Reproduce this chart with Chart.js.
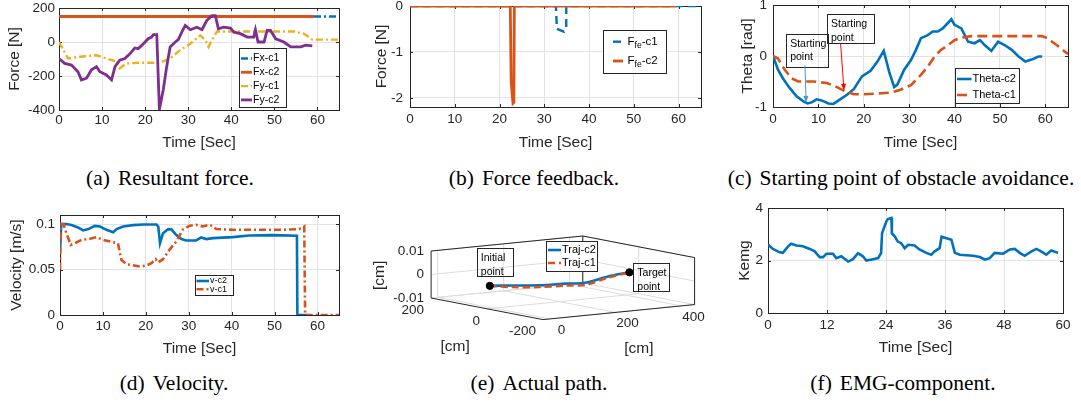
<!DOCTYPE html>
<html>
<head>
<meta charset="utf-8">
<title>Obstacle avoidance results</title>
<script src="https://cdn.jsdelivr.net/npm/chart.js@4.4.1/dist/chart.umd.min.js"></script>
<style>
  html, body { margin: 0; padding: 0; background: #fff; }
  #fig { position: relative; width: 1081px; height: 402px; overflow: hidden; background: #fff; }
  #fig canvas { position: absolute; }
  .cap { position: absolute; font-family: "Liberation Serif", "Times New Roman", serif; font-size: 21.5px; line-height: 21.5px; color: #000; white-space: nowrap; transform: translateX(-50%); }
  .cap span { margin-right: 8px; }
</style>
</head>
<body>
<div id="fig">
  <div class="cap" style="left:170px; top:168px"><span>(a)</span>Resultant force.</div>
  <div class="cap" style="left:534px; top:168px"><span>(b)</span>Force feedback.</div>
  <div class="cap" style="left:901px; top:168px"><span>(c)</span>Starting point of obstacle avoidance.</div>
  <div class="cap" style="left:174px; top:373px"><span>(d)</span>Velocity.</div>
  <div class="cap" style="left:539px; top:373px"><span>(e)</span>Actual path.</div>
  <div class="cap" style="left:903px; top:373px"><span>(f)</span>EMG-component.</div>
</div>
<script>
// ---- values ----
const timeTicks = [0, 10, 20, 30, 40, 50, 60];
const emgTimeTicks = [0, 12, 24, 36, 48, 60];
const forceTicks = [-400, -200, 0, 200];
const feedbackTicks = [-2, -1, 0];
const thetaTicks = [-1, 0, 1];
const velocityTicks = [0, 0.05, 0.1];
const kemgTicks = [0, 2, 4];

// (a) resultant force [s, N]
const fxC1 = [[0, 150], [65, 150]];
const fxC2 = [[0, 150], [59.2, 150]];
const fyC1 = [[0, 0], [2.1, -97], [4.8, -87], [8.7, -78], [11, -97], [13.4, -116], [14.1, -155], [15.7, -126],
  [18.8, -122], [23.5, -122], [25.8, -97], [28.1, -48], [30.5, -10], [32.8, 39], [34, 10], [34.7, -29],
  [35.9, 29], [36.7, 62], [40.6, 62], [54.5, 62], [56.9, 48], [58.8, 14], [65, 14]];
const fyC2 = [[0, -97], [1.3, -126], [2.9, -136], [4.4, -175], [5.2, -223], [6.4, -213], [7.5, -165], [8.7, -145],
  [9.5, -175], [11, -194], [12.2, -223], [13, -145], [14.1, -107], [15.3, -97], [16.5, -68], [17.6, -35],
  [18.4, -39], [19.6, -10], [20.7, 19], [21.5, 29], [21.9, 43], [22.7, 43], [23.3, -398], [24.2, -281],
  [25, -145], [25.8, -29], [27, 0], [27.7, 14], [28.5, 58], [29.3, 97], [30.5, 72], [32, 87], [33.2, 72],
  [34.3, 126], [35.5, 155], [36.3, 155], [37, 78], [38.2, 87], [39.8, 82], [40.6, 58], [42.1, 49], [43.7, 29],
  [45.2, 29], [45.6, 72], [46.2, 0], [47.6, 0], [48.3, 68], [49.1, 68], [50.3, 19], [52.2, 0], [53.8, -29],
  [56.1, -29], [57.3, -19], [58.8, -23]];

// (b) force feedback [s, N]
const ffeC1 = [[0, 0], [32.6, 0], [32.8, -0.5], [34.4, -0.56], [34.9, -0.5], [34.9, 0], [65, 0]];
const ffeC2 = [[0, 0], [22.4, 0], [22.6, -1.65], [23.0, -2.12], [23.2, -2.1], [23.3, 0], [59.4, 0]];

// (c) heading angle [s, rad]
const thetaC2 = [[0, 0], [1.1, -0.27], [2.2, -0.44], [3.7, -0.63], [5.2, -0.79], [6.7, -0.89], [7.6, -0.93],
  [8.5, -0.91], [9.6, -0.85], [10.7, -0.87], [12.2, -0.93], [13.3, -0.94], [14.8, -0.85], [16.3, -0.76],
  [17.8, -0.65], [19.6, -0.4], [21.5, -0.29], [23, -0.11], [24.4, 0.1], [25.6, -0.31], [26.7, -0.61],
  [27.4, -0.56], [28.9, -0.27], [30.4, -0.08], [31.5, 0.12], [32.6, 0.35], [34.1, 0.41], [35.2, 0.48],
  [36.3, 0.48], [37.4, 0.54], [39.3, 0.72], [40, 0.61], [41.5, 0.54], [43, 0.28], [44.4, 0.25], [45.6, 0.31],
  [46.7, 0.21], [48.1, 0.1], [49.6, 0.28], [51.1, 0.21], [52.6, 0.12], [54.1, -0.01], [55.6, -0.11],
  [57, -0.07], [58.5, -0.01], [59.3, -0.01]];
const thetaC1 = [[0, 0], [1.1, -0.05], [2.6, -0.27], [4.1, -0.44], [5.6, -0.5], [8.9, -0.5], [11.9, -0.53],
  [14.1, -0.61], [15.6, -0.68], [17.8, -0.75], [20, -0.75], [25.9, -0.72], [28.1, -0.66], [30.4, -0.57],
  [32.6, -0.37], [34.1, -0.21], [35.6, -0.01], [37, 0.12], [38.5, 0.21], [40, 0.31], [41.5, 0.36],
  [43.7, 0.39], [59.3, 0.39], [60.4, 0.35], [61.5, 0.28], [63, 0.18], [64.4, 0.08], [65, 0.04]];

// (d) velocity [s, m/s]
const vC2 = [[0, 0.07], [0.3, 0.1], [1.5, 0.1], [2.7, 0.099], [4.3, 0.096], [5.4, 0.093], [6.6, 0.0945],
  [8.1, 0.098], [9.3, 0.0974], [10.8, 0.0937], [12.4, 0.091], [13.2, 0.0945], [14.7, 0.0974], [17, 0.0989],
  [19.4, 0.0996], [22.5, 0.0996], [22.9, 0.097], [23.3, 0.079], [24, 0.09], [25.2, 0.0945], [26, 0.094],
  [27.1, 0.088], [28.3, 0.0835], [29.4, 0.082], [31.7, 0.082], [32.9, 0.0853], [34.1, 0.0835],
  [35.6, 0.0846], [40.2, 0.0857], [44.1, 0.0875], [49.5, 0.0879], [55.2, 0.0871], [55.3, 0], [57.7, 0]];
const vC1 = [[0, 0.05], [0.2, 0.1], [0.8, 0.1], [1.5, 0.09], [2.5, 0.077], [3.5, 0.079], [5, 0.0827],
  [7, 0.0838], [8.5, 0.0857], [10, 0.0827], [12.4, 0.08], [13.5, 0.079], [14.3, 0.0607], [15.5, 0.0559],
  [18.6, 0.0533], [20.1, 0.0544], [21.3, 0.057], [22.3, 0.0614], [22.8, 0.0577], [24, 0.0614],
  [25.5, 0.0717], [27.1, 0.0809], [28.6, 0.0938], [30.2, 0.0982], [31.7, 0.0993], [33.3, 0.0974],
  [34.8, 0.0993], [35.6, 0.0974], [36.4, 0.0945], [40.2, 0.0938], [51.9, 0.0938], [55.7, 0.0945],
  [56.9, 0.0974], [57.1, 0], [65, 0]];

// (e) actual path [x cm, y cm, z cm]
const pathXTicks = [0, 200, 400];
const pathYTicks = [-200, 0, 200];
const pathZTicks = [-0.01, 0, 0.01];
const trajC2 = [[-20, -10, 0], [26, -31, 0], [86, -64, 0], [156, -75, 0], [205, -87, 0], [315, -38, 0], [400, -14, 0]];
const trajC1 = [[-20, -10, 0], [10, -50, 0], [69, -85, 0], [136, -98, 0], [182, -114, 0], [302, -52, 0], [400, -14, 0]];
const pathStart = [-20, -10, 0];
const pathTarget = [400, -14, 0];

// (f) EMG component [s, -]
const kemg = [[0, 2.61], [1, 2.44], [2.4, 2.31], [3, 2.29], [4.1, 2.54], [4.7, 2.64], [5.8, 2.57], [7.1, 2.54],
  [8.5, 2.44], [9.5, 2.35], [10.5, 2.13], [11.2, 2.13], [11.9, 2.26], [13.2, 2.26], [13.9, 2.09], [14.9, 2.16],
  [16.3, 1.96], [17.3, 2.05], [18.3, 2.28], [19.3, 2.16], [20, 2.0], [21.4, 2.05], [22.4, 2.09], [23, 2.28],
  [23.2, 3.04], [23.7, 3.3], [24.1, 3.5], [24.4, 3.58], [25.1, 3.62], [25.2, 3.04], [25.8, 2.91], [26.4, 2.72],
  [27.1, 2.66], [27.8, 2.47], [28.5, 2.6], [29.8, 2.57], [30.8, 2.42], [32.2, 2.29], [33.2, 2.22], [33.9, 2.35],
  [34.9, 2.47], [35.3, 2.91], [36.3, 2.85], [37.3, 2.79], [38, 2.29], [39, 2.22], [41.7, 2.18], [43.1, 2.13],
  [44.1, 2.03], [45.1, 2.09], [46.1, 2.29], [47.8, 2.26], [49.2, 2.42], [50.2, 2.44], [51.2, 2.29],
  [52.2, 2.18], [53.6, 2.35], [54.6, 2.44], [55.9, 2.31], [56.6, 2.22], [57.6, 2.38], [59, 2.29]];

// ---- look ----
const BLUE = '#0072BD', ORANGE = '#D95319', YELLOW = '#EDB120', PURPLE = '#7E2F8E';
const INK = '#262626', GRID = '#e3e3e3';
const DASHDOT = [7, 3, 2, 3], DASHED = [10, 5];
const TICK = 13.5, TITLE = 15.5;
const SANS = "'Liberation Sans', Arial, sans-serif";

Chart.defaults.font.family = SANS;
Chart.defaults.font.size = TICK;
Chart.defaults.color = INK;
Chart.defaults.animation = false;
Chart.defaults.responsive = false;
Chart.defaults.devicePixelRatio = 1;
Chart.defaults.plugins.legend.display = false;
Chart.defaults.plugins.tooltip.enabled = false;

function addCanvas(id, left, top, w, h) {
  const c = document.createElement('canvas');
  c.id = id;
  c.width = w;
  c.height = h;
  c.style.left = left + 'px';
  c.style.top = top + 'px';
  document.getElementById('fig').appendChild(c);
  return c;
}

// label with optional subscript, e.g. "F_{fe}-c1"
function drawRichText(ctx, text, x, y, size) {
  const parts = text.split(/_\{([^}]*)\}/);
  ctx.textAlign = 'left';
  ctx.textBaseline = 'middle';
  ctx.fillStyle = '#000';
  parts.forEach((s, i) => {
    const sub = i % 2 === 1;
    ctx.font = (sub ? size * 0.75 : size) + 'px ' + SANS;
    ctx.fillText(s, x, y + (sub ? size * 0.3 : 0));
    x += ctx.measureText(s).width;
  });
}

// matlab style axes box with inward ticks
const framePlugin = {
  id: 'frame',
  beforeDatasetsDraw(chart) {
    const { ctx, chartArea: a, scales: { x, y } } = chart;
    ctx.save();
    ctx.strokeStyle = INK;
    ctx.lineWidth = 1;
    ctx.strokeRect(Math.round(a.left) + 0.5, Math.round(a.top) + 0.5,
      Math.round(a.right - a.left), Math.round(a.bottom - a.top));
    ctx.beginPath();
    x.ticks.forEach(t => {
      const px = Math.round(x.getPixelForValue(t.value)) + 0.5;
      ctx.moveTo(px, a.bottom); ctx.lineTo(px, a.bottom - 3);
      ctx.moveTo(px, a.top); ctx.lineTo(px, a.top + 3);
    });
    y.ticks.forEach(t => {
      const py = Math.round(y.getPixelForValue(t.value)) + 0.5;
      ctx.moveTo(a.left, py); ctx.lineTo(a.left + 3, py);
      ctx.moveTo(a.right, py); ctx.lineTo(a.right - 3, py);
    });
    ctx.stroke();
    ctx.restore();
  }
};

// legend box placed in figure coordinates
const legendPlugin = {
  id: 'boxLegend',
  afterDraw(chart, args, o) {
    if (!o || !o.box) return;
    const ctx = chart.ctx, ox = chart.canvas.offsetLeft, oy = chart.canvas.offsetTop;
    const [l, t, r, b] = o.box;
    ctx.save();
    ctx.fillStyle = '#fff';
    ctx.fillRect(l - ox, t - oy, r - l, b - t);
    ctx.strokeStyle = INK;
    ctx.lineWidth = 1;
    ctx.strokeRect(Math.round(l - ox) + 0.5, Math.round(t - oy) + 0.5, Math.round(r - l), Math.round(b - t));
    chart.data.datasets.filter(d => d.label).forEach((d, i) => {
      const yy = o.rows[i] - oy;
      ctx.strokeStyle = d.borderColor;
      ctx.lineWidth = d.borderWidth;
      ctx.setLineDash(d.borderDash || []);
      ctx.beginPath();
      ctx.moveTo(o.line[0] - ox, yy);
      ctx.lineTo(o.line[1] - ox, yy);
      ctx.stroke();
      ctx.setLineDash([]);
      drawRichText(ctx, d.label, o.textX - ox, yy, o.size);
    });
    ctx.restore();
  }
};

// text boxes and arrows in data coordinates
const notesPlugin = {
  id: 'notes',
  afterDatasetsDraw(chart, args, o) {
    if (!o || !o.items) return;
    const { ctx, scales: { x, y } } = chart;
    ctx.save();
    o.items.forEach(n => {
      if (n.box) {
        const x1 = x.getPixelForValue(n.box[0]), y1 = y.getPixelForValue(n.box[1]);
        const x2 = x.getPixelForValue(n.box[2]), y2 = y.getPixelForValue(n.box[3]);
        ctx.strokeStyle = INK;
        ctx.lineWidth = 1;
        ctx.strokeRect(Math.round(x1) + 0.5, Math.round(y1) + 0.5, Math.round(x2 - x1), Math.round(y2 - y1));
        n.lines.forEach((s, i) => drawRichText(ctx, s, x1 + 4, y1 + 10 + i * 13.5, 10.5));
      } else if (n.arrow) {
        const x1 = x.getPixelForValue(n.arrow[0]), y1 = y.getPixelForValue(n.arrow[1]);
        const x2 = x.getPixelForValue(n.arrow[2]), y2 = y.getPixelForValue(n.arrow[3]);
        const ang = Math.atan2(y2 - y1, x2 - x1);
        ctx.strokeStyle = n.color;
        ctx.fillStyle = n.color;
        ctx.lineWidth = 1;
        ctx.beginPath();
        ctx.moveTo(x1, y1);
        ctx.lineTo(x2 - 5 * Math.cos(ang), y2 - 5 * Math.sin(ang));
        ctx.stroke();
        ctx.beginPath();
        ctx.moveTo(x2, y2);
        ctx.lineTo(x2 - 7 * Math.cos(ang) + 2.5 * Math.sin(ang), y2 - 7 * Math.sin(ang) - 2.5 * Math.cos(ang));
        ctx.lineTo(x2 - 7 * Math.cos(ang) - 2.5 * Math.sin(ang), y2 - 7 * Math.sin(ang) + 2.5 * Math.cos(ang));
        ctx.closePath();
        ctx.fill();
      }
    });
    ctx.restore();
  }
};

function linePanel(p) {
  const [cl, ct, cw, ch] = p.canvas;
  const [al, at, ar, ab] = p.area;
  const tickLH = TICK * 1.2, titleLH = TITLE * 1.2;
  return new Chart(addCanvas(p.id, cl, ct, cw, ch), {
    type: 'line',
    data: {
      datasets: p.series.map(s => ({
        label: s.label,
        data: s.points.map(([x, y]) => ({ x, y })),
        borderColor: s.color,
        borderWidth: s.width || 2.4,
        borderDash: s.dash || [],
        pointRadius: 0,
        tension: 0,
        fill: false,
        order: s.order || 0
      }))
    },
    options: {
      layout: { padding: { left: 0, top: at - ct, right: cl + cw - ar, bottom: 0 } },
      scales: {
        x: {
          type: 'linear', min: p.x.min, max: p.x.max,
          afterBuildTicks: s => { s.ticks = p.x.ticks.map(v => ({ value: v })); },
          afterFit: s => { s.height = ct + ch - ab; s.paddingLeft = 0; s.paddingRight = 0; },
          grid: { color: GRID, drawTicks: false },
          border: { display: false },
          ticks: { autoSkip: false, maxRotation: 0, padding: p.xTickY - ab - tickLH / 2, callback: v => String(v) },
          title: { display: true, text: 'Time [Sec]', font: { size: TITLE },
                   padding: { top: 0, bottom: ct + ch - p.xTitleY - titleLH / 2 } }
        },
        y: {
          type: 'linear', min: p.y.min, max: p.y.max,
          afterBuildTicks: s => { s.ticks = p.y.ticks.map(v => ({ value: v })); },
          afterFit: s => { s.width = al - cl; s.paddingTop = 0; s.paddingBottom = 0; },
          grid: { color: GRID, drawTicks: false },
          border: { display: false },
          ticks: { autoSkip: false, padding: p.yTickPad, callback: v => String(v) },
          title: { display: true, text: p.y.title, font: { size: TITLE },
                   padding: { top: p.yTitleX - cl - titleLH / 2, bottom: 0 } }
        }
      },
      plugins: { boxLegend: p.legend, notes: p.notes || {} }
    },
    plugins: [framePlugin, notesPlugin, legendPlugin]
  });
}

// (a)
linePanel({
  id: 'ca', canvas: [0, 0, 360, 160], area: [59, 8, 339, 110],
  x: { min: 0, max: 65, ticks: timeTicks }, y: { min: -400, max: 200, ticks: forceTicks, title: 'Force [N]' },
  xTickY: 120, xTitleY: 143, yTickPad: 4, yTitleX: 15,
  series: [
    { label: 'Fx-c1', points: fxC1, color: BLUE, dash: DASHDOT, order: 4 },
    { label: 'Fx-c2', points: fxC2, color: ORANGE, width: 2.8, order: 3 },
    { label: 'Fy-c1', points: fyC1, color: YELLOW, dash: DASHDOT, order: 2 },
    { label: 'Fy-c2', points: fyC2, color: PURPLE, width: 2.8, order: 1 }
  ],
  legend: { box: [239, 48, 286, 107], rows: [58.5, 72.3, 86.1, 99.9], line: [241, 252], textX: 253, size: 10.5 }
});

// (b)
linePanel({
  id: 'cb', canvas: [360, 0, 360, 160], area: [410, 6, 701, 107],
  x: { min: 0, max: 65, ticks: timeTicks }, y: { min: -2.2, max: 0, ticks: feedbackTicks, title: 'Force [N]' },
  xTickY: 119, xTitleY: 142.5, yTickPad: 7, yTitleX: 381.7,
  series: [
    { label: 'F_{fe}-c1', points: ffeC1, color: BLUE, dash: [8, 5], order: 2 },
    { label: 'F_{fe}-c2', points: ffeC2, color: ORANGE, width: 2.8, order: 1 }
  ],
  legend: { box: [603, 30, 666, 73], rows: [41.7, 61], line: [613, 623], textX: 627.5, size: 11.5 }
});

// (c)
linePanel({
  id: 'cc', canvas: [720, 0, 361, 160], area: [773, 5, 1068, 107],
  x: { min: 0, max: 65, ticks: timeTicks }, y: { min: -1, max: 1, ticks: thetaTicks, title: 'Theta [rad]' },
  xTickY: 119, xTitleY: 143, yTickPad: 6, yTitleX: 748,
  series: [
    { label: 'Theta-c2', points: thetaC2, color: BLUE, width: 2.6, order: 2 },
    { label: 'Theta-c1', points: thetaC1, color: ORANGE, dash: DASHED, width: 2.6, order: 1 }
  ],
  legend: { box: [955, 68, 1019, 103], rows: [79, 95], line: [957, 971.5], textX: 972.5, size: 11 },
  notes: { items: [
    { box: [2.9, 0.43, 12.2, -0.22], lines: ['Starting', 'point'] },
    { box: [11.9, 0.82, 22.3, 0.25], lines: ['Starting', 'point'] },
    { arrow: [7.05, -0.18, 7.3, -0.92], color: '#4A97D6' },
    { arrow: [14.9, 0.235, 15.65, -0.68], color: '#FF0000' }
  ] }
});

// (d)
linePanel({
  id: 'cd', canvas: [0, 200, 360, 162], area: [60, 215, 339, 315],
  x: { min: 0, max: 65, ticks: timeTicks }, y: { min: 0, max: 0.11, ticks: velocityTicks, title: 'Velocity [m/s]' },
  xTickY: 326, xTitleY: 349, yTickPad: 5, yTitleX: 16.7,
  series: [
    { label: 'v-c2', points: vC2, color: BLUE, width: 2.6, order: 2 },
    { label: 'v-c1', points: vC1, color: ORANGE, dash: DASHDOT, width: 2.6, order: 1 }
  ],
  legend: { box: [195, 275, 233, 295], rows: [281, 289.3], line: [196.5, 209], textX: 210, size: 9 }
});

// (f)
linePanel({
  id: 'cf', canvas: [720, 200, 361, 162], area: [768, 208, 1063, 313],
  x: { min: 0, max: 60, ticks: emgTimeTicks }, y: { min: 0, max: 4, ticks: kemgTicks, title: 'Kemg' },
  xTickY: 325, xTitleY: 348, yTickPad: 5, yTitleX: 745,
  series: [ { points: kemg, color: BLUE, width: 2.6 } ]
});

// (e) 3-D path, projected onto the page with a fixed view
const pathXRange = [-20, 440], pathYRange = [-200, 200], pathZRange = [-0.01, 0.01];
const view = { ox: 428, oy: 249, xv: [156, -16], yv: [115, 23], zh: 50 };
function project(X, Y, Z) {
  const a = (X - pathXRange[0]) / (pathXRange[1] - pathXRange[0]);
  const b = (pathYRange[1] - Y) / (pathYRange[1] - pathYRange[0]);
  const c = (pathZRange[1] - Z) / (pathZRange[1] - pathZRange[0]);
  return { x: view.ox + a * view.xv[0] + b * view.yv[0], y: view.oy + a * view.xv[1] + b * view.yv[1] + c * view.zh };
}

const box3dPlugin = {
  id: 'box3d',
  beforeDatasetsDraw(chart) {
    const { ctx, scales: { x, y } } = chart;
    const P = (X, Y, Z) => { const q = project(X, Y, Z); return [x.getPixelForValue(q.x), y.getPixelForValue(q.y)]; };
    const seg = (p, q) => { ctx.moveTo(...P(...p)); ctx.lineTo(...P(...q)); };
    const [x0, x1] = pathXRange, [y0, y1] = pathYRange, [z0, z1] = pathZRange;
    ctx.save();
    ctx.lineWidth = 1;
    ctx.strokeStyle = '#dcdcdc';
    ctx.beginPath();
    pathXTicks.forEach(v => { seg([v, y0, z0], [v, y1, z0]); seg([v, y1, z0], [v, y1, z1]); });
    pathYTicks.forEach(v => { seg([x0, v, z0], [x1, v, z0]); seg([x1, v, z0], [x1, v, z1]); });
    pathZTicks.forEach(v => { seg([x0, y1, v], [x1, y1, v]); seg([x1, y1, v], [x1, y0, v]); });
    ctx.stroke();
    ctx.strokeStyle = INK;
    ctx.beginPath();
    seg([x0, y1, z1], [x1, y1, z1]); seg([x1, y1, z1], [x1, y0, z1]);
    seg([x0, y1, z0], [x0, y1, z1]); seg([x1, y1, z0], [x1, y1, z1]); seg([x1, y0, z0], [x1, y0, z1]);
    seg([x0, y1, z0], [x0, y0, z0]); seg([x0, y0, z0], [x1, y0, z0]);
    ctx.stroke();

    ctx.fillStyle = INK;
    ctx.font = TICK + 'px ' + SANS;
    ctx.textBaseline = 'middle';
    ctx.textAlign = 'right';
    pathZTicks.forEach(v => { const [px, py] = P(x0, y1, v); ctx.fillText(String(v), px - 7, py); });
    pathYTicks.forEach(v => { const [px, py] = P(x0, v, z0); ctx.fillText(String(v), px - 7, py + 12); });
    ctx.textAlign = 'center';
    pathXTicks.forEach(v => { const [px, py] = P(v, y0, z0); ctx.fillText(String(v), px + 12, py + 11); });

    ctx.font = TITLE + 'px ' + SANS;
    ctx.fillText('[cm]', x.getPixelForValue(452.7), y.getPixelForValue(350.7));
    ctx.fillText('[cm]', x.getPixelForValue(641.7), y.getPixelForValue(352.7));
    ctx.translate(x.getPixelForValue(375), y.getPixelForValue(275));
    ctx.rotate(-Math.PI / 2);
    ctx.fillText('[cm]', 0, 0);
    ctx.restore();
  }
};

const toXY = pts => pts.map(([X, Y, Z]) => project(X, Y, Z));
new Chart(addCanvas('ce', 360, 200, 360, 165), {
  type: 'scatter',
  data: {
    datasets: [
      { label: 'Traj-c2', data: toXY(trajC2), showLine: true, borderColor: BLUE, borderWidth: 2.6,
        borderDash: [], pointRadius: 0, tension: 0.3, order: 2 },
      { label: 'Traj-c1', data: toXY(trajC1), showLine: true, borderColor: ORANGE, borderWidth: 2.6,
        borderDash: [7, 4], pointRadius: 0, tension: 0.3, order: 1 },
      { data: toXY([pathStart, pathTarget]), showLine: false, pointRadius: 3.6,
        pointBackgroundColor: '#000', pointBorderColor: '#000', order: 0 }
    ]
  },
  options: {
    layout: { padding: 0 },
    scales: {
      x: { type: 'linear', min: 360, max: 720, display: false },
      y: { type: 'linear', min: 200, max: 365, reverse: true, display: false }
    },
    plugins: {
      boxLegend: { box: [546, 241, 597, 271], rows: [250, 263], line: [548, 561], textX: 562, size: 11 },
      notes: { items: [
        { box: [475, 246, 512, 276], lines: ['Initial', 'point'] },
        { box: [636, 262, 673, 292], lines: ['Target', 'point'] }
      ] }
    }
  },
  plugins: [box3dPlugin, notesPlugin, legendPlugin]
});
</script>
</body>
</html>
